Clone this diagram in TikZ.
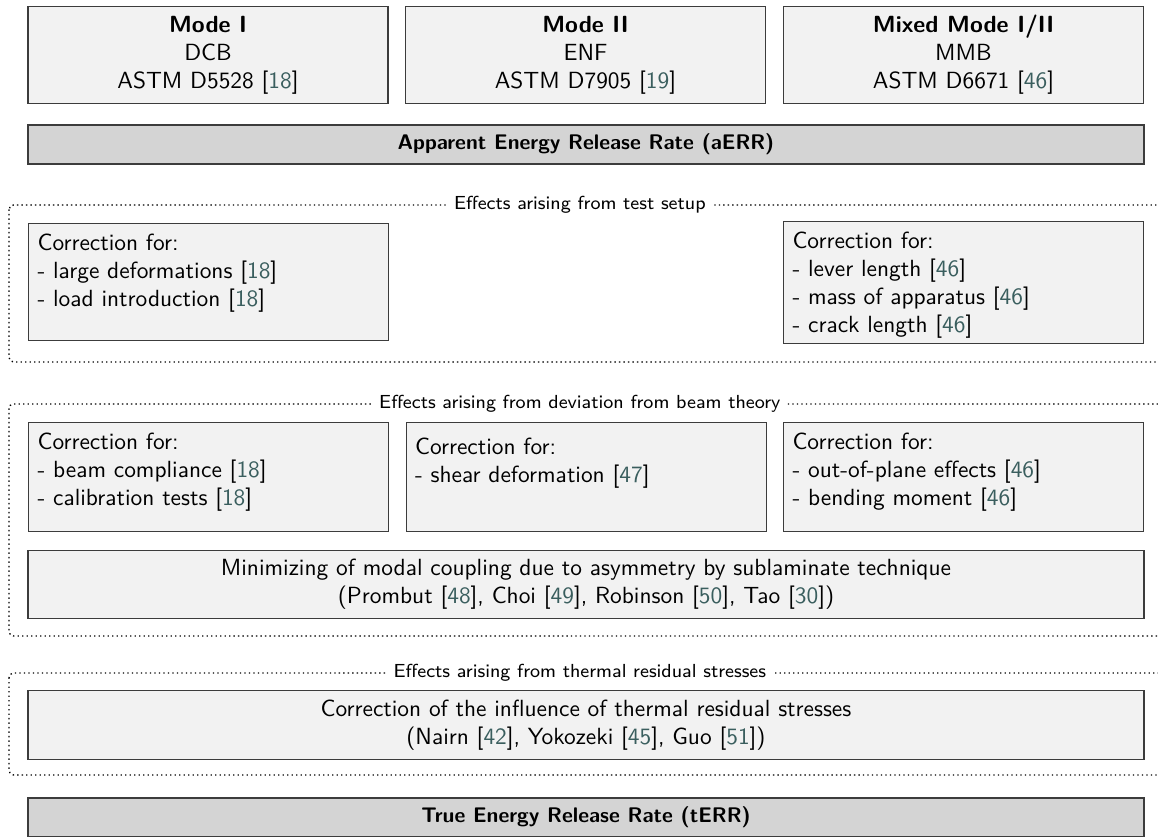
\documentclass[tikz,border=0pt]{standalone}
\usepackage{xcolor}
\usepackage{tikz}
\usetikzlibrary{positioning}
\definecolor{citegray}{RGB}{58,94,94}
\definecolor{boxline}{RGB}{60,60,60}
\newcommand{\refnum}[1]{[\textcolor{citegray}{#1}]}

\begin{document}
\begin{tikzpicture}[
  font=\sffamily\fontsize{10.4}{12.5}\selectfont,
  testbox/.style={rectangle, draw=boxline, fill=gray!10, line width=0.5pt, inner sep=4pt,
                  minimum width=5.625cm, minimum height=1.469cm, align=center},
  corrbox/.style={rectangle, draw=boxline, fill=gray!10, line width=0.5pt, inner sep=4pt,
                  anchor=north west, text width=5.625cm-8pt, align=left, text height=8pt},
  widebox/.style={rectangle, draw=boxline, fill=gray!10, line width=0.5pt, inner sep=4pt,
                  minimum width=17.4375cm, align=center},
  ratebox/.style={rectangle, draw=boxline, fill=gray!34, line width=0.5pt,
                  minimum width=17.4375cm, minimum height=0.609cm,
                  font=\sffamily\bfseries\fontsize{9.4}{11.3}\selectfont},
  group/.style={line width=0.6pt, dash pattern=on 0.6pt off 1.4pt, rounded corners=2pt},
  grouplabel/.style={fill=white, inner sep=3pt, font=\sffamily\fontsize{8.4}{10}\selectfont}
]
  \useasboundingbox (0,0) rectangle (18.094,-13.078);
  \clip (0,0) rectangle (18.094,-13.078);

  % test methods
  \node[testbox] (modeI) at (3.25,-0.859) {\textbf{Mode I}\\DCB\\ASTM D5528 \refnum{18}};
  \node[testbox] (modeII) at (9.148,-0.859) {\textbf{Mode II}\\ENF\\ASTM D7905 \refnum{19}};
  \node[testbox] (mixed) at (15.055,-0.859) {\textbf{Mixed Mode I/II}\\MMB\\ASTM D6671 \refnum{46}};

  \node[ratebox] (aERR) at (9.156,-2.258) {Apparent Energy Release Rate (aERR)};

  % test setup
  \draw[group] (0.141,-3.203) rectangle (18.3,-5.656);
  \node[grouplabel] (setup) at (9.06,-3.203) {Effects arising from test setup};
  \node[corrbox, text depth=36pt] (setupL) at (0.4375,-3.484)
    {Correction for:\\- large deformations \refnum{18}\\- load introduction \refnum{18}};
  \node[corrbox, text depth=38.2pt] (setupR) at (12.234,-3.453)
    {Correction for:\\- lever length \refnum{46}\\- mass of apparatus \refnum{46}\\- crack length \refnum{46}};

  % beam theory
  \draw[group] (0.141,-6.3125) rectangle (18.3,-9.9375);
  \node[grouplabel] (beam) at (9.06,-6.3125) {Effects arising from deviation from beam theory};
  \node[corrbox, text depth=32.5pt] (beamL) at (0.4375,-6.594)
    {Correction for:\\- beam compliance \refnum{18}\\- calibration tests \refnum{18}};
  \node[corrbox, text height=10.2pt, text depth=30.3pt] (beamM) at (6.336,-6.594)
    {Correction for:\\- shear deformation \refnum{47}};
  \node[corrbox, text depth=32.5pt] (beamR) at (12.234,-6.594)
    {Correction for:\\- out-of-plane effects \refnum{46}\\- bending moment \refnum{46}};
  \node[widebox, minimum height=1.016cm] (sublam) at (9.156,-9.133)
    {Minimizing of modal coupling due to asymmetry by sublaminate technique\\
     (Prombut \refnum{48}, Choi \refnum{49}, Robinson \refnum{50}, Tao \refnum{30})};

  % thermal stresses
  \draw[group] (0.141,-10.516) rectangle (18.3,-12.109);
  \node[grouplabel] (thermal) at (9.06,-10.516) {Effects arising from thermal residual stresses};
  \node[widebox, minimum height=1.031cm] (thermalbox) at (9.156,-11.328)
    {Correction of the influence of thermal residual stresses\\
     (Nairn \refnum{42}, Yokozeki \refnum{45}, Guo \refnum{51})};

  \node[ratebox] (tERR) at (9.156,-12.773) {True Energy Release Rate (tERR)};
\end{tikzpicture}
\end{document}
